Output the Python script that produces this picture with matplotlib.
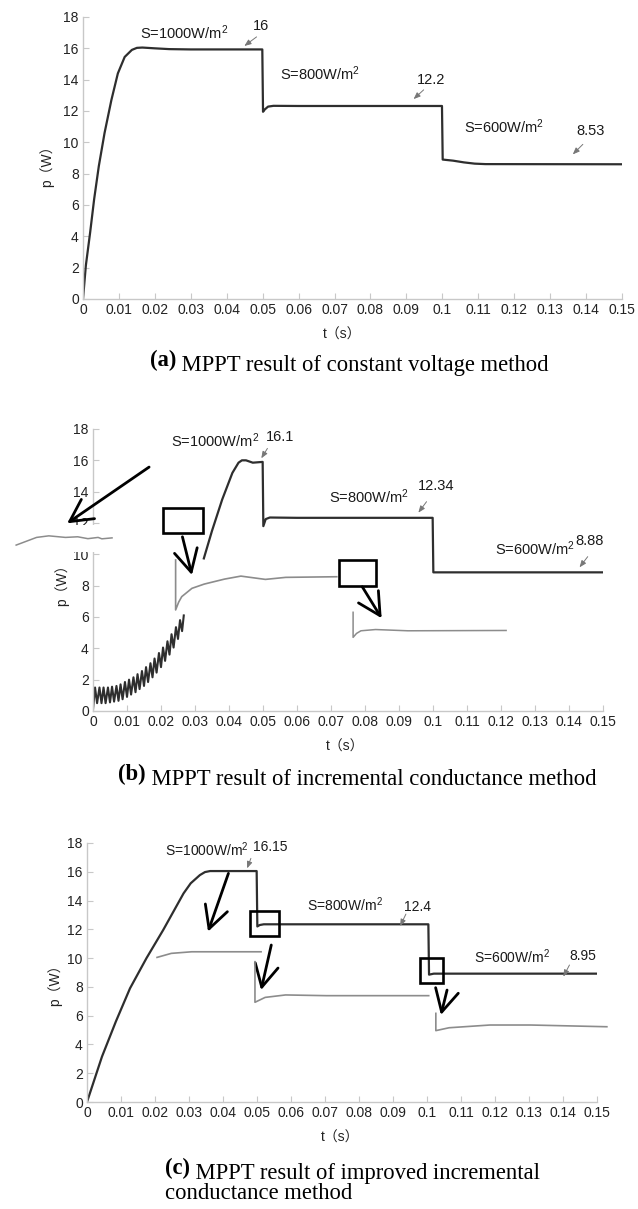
import matplotlib
matplotlib.use('Agg')
import matplotlib.pyplot as plt
from matplotlib.patches import Rectangle

plt.rcParams['font.family'] = ['Liberation Sans', 'Noto Sans CJK SC', 'DejaVu Sans']
plt.rcParams['mathtext.fontset'] = 'custom'
plt.rcParams['mathtext.rm'] = 'Liberation Sans'
plt.rcParams['mathtext.default'] = 'regular'

# ---------------- shared axis data ----------------
x_ticks = [0, 0.01, 0.02, 0.03, 0.04, 0.05, 0.06, 0.07, 0.08, 0.09, 0.1,
           0.11, 0.12, 0.13, 0.14, 0.15]
x_tick_labels = ['0', '0.01', '0.02', '0.03', '0.04', '0.05', '0.06', '0.07',
                 '0.08', '0.09', '0.1', '0.11', '0.12', '0.13', '0.14', '0.15']
y_ticks = [0, 2, 4, 6, 8, 10, 12, 14, 16, 18]
x_label = 't（s）'
y_label = 'p（W）'
irradiance_labels = ['S=1000W/m$^2$', 'S=800W/m$^2$', 'S=600W/m$^2$']

# ---------------- panel (a): constant voltage ----------------
ta = [0, 0.0008, 0.0020, 0.0031, 0.0044, 0.0060, 0.0079, 0.0097, 0.0116,
      0.0136, 0.0150, 0.0165, 0.020, 0.024, 0.03,
      0.0499, 0.0501, 0.0506, 0.0515, 0.053, 0.06, 0.0999, 0.1001, 0.103,
      0.106, 0.109, 0.112, 0.15]
pa = [0, 2.15, 4.27, 6.37, 8.48, 10.6, 12.7, 14.4, 15.45,
      15.9, 16.03, 16.05, 16.0, 15.95, 15.93,
      15.93, 11.95, 12.1, 12.28, 12.33, 12.32, 12.32, 8.9, 8.83,
      8.72, 8.64, 8.61, 8.6]
values_a = ['16', '12.2', '8.53']

# ---------------- panel (b): incremental conductance ----------------
tb_osc = [0.0000, 0.0006, 0.0012, 0.0019, 0.0025, 0.0031, 0.0037, 0.0044,
          0.0050, 0.0056, 0.0062, 0.0069, 0.0075, 0.0081, 0.0087, 0.0094,
          0.0100, 0.0106, 0.0112, 0.0119, 0.0125, 0.0131, 0.0137, 0.0144,
          0.0150, 0.0156, 0.0162, 0.0169, 0.0175, 0.0181, 0.0187, 0.0194,
          0.0200, 0.0206, 0.0212, 0.0219, 0.0225, 0.0231, 0.0237, 0.0244,
          0.0250, 0.0256, 0.0262, 0.0267]
pb_osc = [0.1, 1.5, 0.5, 1.5, 0.5, 1.5, 0.5, 1.5,
          0.55, 1.55, 0.6, 1.6, 0.65, 1.7, 0.75, 1.85,
          0.9, 2.0, 1.05, 2.15, 1.2, 2.35, 1.4, 2.55,
          1.6, 2.8, 1.85, 3.05, 2.15, 3.35, 2.45, 3.7,
          2.8, 4.05, 3.2, 4.45, 3.6, 4.9, 4.05, 5.35,
          4.6, 5.8, 5.1, 6.1]
tb_main = [0.0326, 0.035, 0.038, 0.041, 0.0428, 0.0438, 0.045, 0.047, 0.0499,
           0.0501, 0.0508, 0.052, 0.06, 0.0999, 0.1001, 0.15]
pb_main = [9.74, 11.5, 13.5, 15.2, 15.85, 16.0, 16.0, 15.85, 15.9,
           11.8, 12.25, 12.35, 12.33, 12.33, 8.85, 8.85]
tb_zoom1 = [-0.0226, -0.0166, -0.0130, -0.0081, -0.0045, -0.0015, 0.0015, 0.0026, 0.0056]
pb_zoom1 = [10.59, 11.08, 11.18, 11.08, 11.12, 11.0, 11.08, 10.99, 11.05]
tb_zoom2 = [0.0243, 0.0243, 0.0252, 0.0261, 0.0291, 0.0327, 0.0387, 0.0435, 0.0507, 0.0567, 0.0717]
pb_zoom2 = [9.64, 6.45, 6.95, 7.3, 7.83, 8.1, 8.42, 8.61, 8.4, 8.53, 8.57]
tb_zoom3 = [0.0765, 0.0765, 0.0775, 0.0788, 0.0831, 0.0926, 0.1215]
pb_zoom3 = [6.3, 4.7, 4.95, 5.12, 5.2, 5.12, 5.14]
values_b = ['16.1', '12.34', '8.88']

# ---------------- panel (c): improved incremental conductance ----------------
tc_main = [0, 0.0044, 0.0085, 0.01265, 0.0175, 0.0224, 0.0284, 0.0305, 0.0332,
           0.0347, 0.0362, 0.0499, 0.0501, 0.0508, 0.052, 0.1004, 0.1006,
           0.102, 0.15]
pc_main = [0, 3.15, 5.6, 7.9, 10.0, 11.95, 14.5, 15.2, 15.77,
           15.98, 16.05, 16.05, 12.2, 12.3, 12.35, 12.35, 8.85,
           8.92, 8.92]
tc_zoom1 = [0.0206, 0.0248, 0.0308, 0.0512]
pc_zoom1 = [10.05, 10.33, 10.44, 10.44]
tc_zoom2 = [0.0494, 0.0494, 0.0524, 0.0584, 0.0704, 0.1005]
pc_zoom2 = [9.75, 6.93, 7.27, 7.44, 7.39, 7.39]
tc_zoom3 = [0.1026, 0.1026, 0.1065, 0.1185, 0.1305, 0.1529]
pc_zoom3 = [6.16, 4.96, 5.16, 5.35, 5.35, 5.23]
values_c = ['16.15', '12.4', '8.95']

captions = [('(a)', ' MPPT result of constant voltage method'),
            ('(b)', ' MPPT result of incremental conductance method'),
            ('(c)', ' MPPT result of improved incremental')]
caption_c2 = 'conductance method'

# ---------------- figure ----------------
W, H = 638, 1209
fig = plt.figure(figsize=(W / 100, H / 100), dpi=100)

MAIN = '#2e2e2e'
GRAY = '#8c8c8c'
AXC = '#c8c8c8'
CAP_FS = 16.3


def make_axes(l, r, t, b):
    ax = fig.add_axes([l / W, 1 - b / H, (r - l) / W, (b - t) / H])
    ax.set_xlim(0, 0.15)
    ax.set_ylim(0, 18)
    ax.set_xticks(x_ticks)
    ax.set_xticklabels(x_tick_labels)
    ax.set_yticks(y_ticks)
    for s in ['top', 'right']:
        ax.spines[s].set_visible(False)
    for s in ['left', 'bottom']:
        ax.spines[s].set_color(AXC)
        ax.spines[s].set_linewidth(1.0)
    ax.tick_params(direction='in', length=4, color=AXC, labelsize=10,
                   labelcolor='#222222', pad=3)
    ax.patch.set_alpha(0)
    return ax


def pointer(ax, start, end):
    ax.annotate('', xy=end, xytext=start,
                arrowprops=dict(arrowstyle='-|>,head_length=0.5,head_width=0.2',
                                color='#777777', lw=0.7, mutation_scale=8,
                                shrinkA=0, shrinkB=0), annotation_clip=False)


def big_arrow(ax, start, end):
    ax.annotate('', xy=end, xytext=start,
                arrowprops=dict(arrowstyle='->,head_length=0.8,head_width=0.42',
                                color='black', lw=2.0, mutation_scale=20,
                                shrinkA=0, shrinkB=0), annotation_clip=False)


def box(ax, t0, t1, v0, v1):
    ax.add_patch(Rectangle((t0, v0), t1 - t0, v1 - v0, fill=False,
                           edgecolor='black', lw=1.9, zorder=5, clip_on=False))


def txt(ax, t, v, s, fs=10.5):
    ax.text(t, v, s, fontsize=fs, ha='left', va='center', color='#1a1a1a',
            clip_on=False)


def axis_labels(xl, yl):
    fig.text(xl[0] / W, 1 - xl[1] / H, x_label, fontsize=10, ha='center',
             va='center', color='#222222')
    fig.text(yl[0] / W, 1 - yl[1] / H, y_label, fontsize=10, ha='center',
             va='center', rotation=90, color='#222222')


# ---- panel (a)
axa = make_axes(83, 622, 17, 299)
axa.plot(ta, pa, color=MAIN, lw=1.6, solid_joinstyle='round')
txt(axa, 0.016, 17.0, irradiance_labels[0])
txt(axa, 0.0472, 17.4, values_a[0])
pointer(axa, (0.0483, 16.73), (0.0449, 16.15))
txt(axa, 0.0547, 14.37, irradiance_labels[1])
txt(axa, 0.093, 14.0, values_a[1])
pointer(axa, (0.0948, 13.35), (0.092, 12.76))
txt(axa, 0.106, 10.97, irradiance_labels[2])
txt(axa, 0.1374, 10.7, values_a[2])
pointer(axa, (0.1391, 9.87), (0.1363, 9.23))
axis_labels((342, 335), (47, 163))

# ---- panel (b)
axb = make_axes(93, 603, 429, 711)
axb.plot(tb_osc, pb_osc, color=MAIN, lw=1.5)
axb.plot(tb_main, pb_main, color=MAIN, lw=1.6)
axb.add_patch(Rectangle((-0.03, 10.18), 0.0356, 1.67, facecolor='white',
                        edgecolor='none', zorder=3, clip_on=False))
axb.plot(tb_zoom1, pb_zoom1, color=GRAY, lw=1.1, clip_on=False, zorder=4)
axb.plot(tb_zoom2, pb_zoom2, color=GRAY, lw=1.2, zorder=4)
axb.plot(tb_zoom3, pb_zoom3, color=GRAY, lw=1.1, zorder=4)
box(axb, 0.0207, 0.0324, 11.34, 12.94)
box(axb, 0.0723, 0.0831, 8.0, 9.64)
big_arrow(axb, (0.0165, 15.57), (-0.0076, 11.98))
big_arrow(axb, (0.0263, 11.12), (0.0291, 8.68))
big_arrow(axb, (0.0792, 7.93), (0.0849, 5.92))
txt(axb, 0.0228, 17.23, irradiance_labels[0])
txt(axb, 0.0509, 17.5, values_b[0])
pointer(axb, (0.0513, 16.76), (0.0495, 16.13))
txt(axb, 0.0693, 13.68, irradiance_labels[1])
txt(axb, 0.0956, 14.36, values_b[1])
pointer(axb, (0.0981, 13.36), (0.0957, 12.66))
txt(axb, 0.1182, 10.34, irradiance_labels[2])
txt(axb, 0.1419, 10.85, values_b[2])
pointer(axb, (0.1455, 9.85), (0.1431, 9.17))
axis_labels((345, 747), (62, 582))

# ---- panel (c)
axc = make_axes(87, 597, 843, 1102)
axc.plot(tc_main, pc_main, color=MAIN, lw=1.6, solid_joinstyle='round')
axc.plot(tc_zoom1, pc_zoom1, color=GRAY, lw=1.2, zorder=4)
axc.plot(tc_zoom2, pc_zoom2, color=GRAY, lw=1.2, zorder=4)
axc.plot(tc_zoom3, pc_zoom3, color=GRAY, lw=1.2, zorder=4, clip_on=False)
box(axc, 0.0479, 0.0564, 11.56, 13.29)
box(axc, 0.098, 0.1047, 8.25, 10.03)
big_arrow(axc, (0.0416, 15.89), (0.0356, 11.84))
big_arrow(axc, (0.0542, 10.91), (0.0512, 7.78))
big_arrow(axc, (0.1059, 7.78), (0.1041, 6.05))
txt(axc, 0.0228, 17.5, irradiance_labels[0], fs=10)
txt(axc, 0.0489, 17.7, values_c[0], fs=10)
pointer(axc, (0.0482, 16.93), (0.0471, 16.24))
txt(axc, 0.0647, 13.69, irradiance_labels[1], fs=10)
txt(axc, 0.0932, 13.57, values_c[1], fs=10)
pointer(axc, (0.0938, 13.06), (0.0921, 12.23))
txt(axc, 0.1138, 10.1, irradiance_labels[2], fs=10)
txt(axc, 0.1418, 10.15, values_c[2], fs=10)
pointer(axc, (0.1419, 9.52), (0.1401, 8.71))
axis_labels((340, 1138), (55, 982))

# ---- captions
cap_pos = [(150, 366), (118, 780), (165, 1174)]
for (bold, rest), (cx, cy) in zip(captions, cap_pos):
    t1 = fig.text(cx / W, 1 - cy / H, bold, fontsize=CAP_FS, fontweight='bold',
                  family='Liberation Serif', ha='left', va='baseline')
    axa.annotate(rest, xy=(1, 0), xycoords=t1, xytext=(0, 0),
                 textcoords='offset points', fontsize=CAP_FS,
                 family='Liberation Serif', ha='left', va='baseline',
                 annotation_clip=False)
fig.text(165 / W, 1 - 1199 / H, caption_c2, fontsize=CAP_FS,
         family='Liberation Serif', ha='left', va='baseline')

fig.savefig('out.png', dpi=100)
